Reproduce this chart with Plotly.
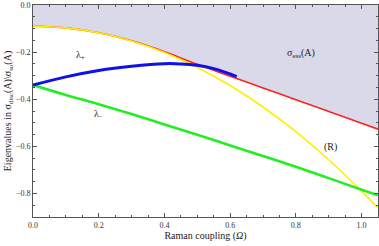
import plotly.graph_objects as go

omega = [0.0, 0.1, 0.2, 0.3, 0.4, 0.5, 0.6, 0.7, 0.8, 0.9, 1.0, 1.05]
ess_edge = [-0.09, -0.097, -0.118, -0.152, -0.198, -0.252, -0.302, -0.352, -0.402, -0.452, -0.502, -0.527]
r_curve = [-0.09, -0.097, -0.118, -0.153, -0.202, -0.265, -0.342, -0.433, -0.538, -0.657, -0.79, -0.862]
lam_minus = [-0.34, -0.382, -0.421, -0.463, -0.507, -0.551, -0.596, -0.641, -0.687, -0.735, -0.784, -0.808]
omega_plus = [0.0, 0.1, 0.2, 0.3, 0.4, 0.45, 0.5, 0.55, 0.6, 0.62]
lam_plus = [-0.34, -0.305, -0.278, -0.26, -0.249, -0.25, -0.256, -0.27, -0.293, -0.304]
top = [0.0] * len(omega)

xticks = [0.0, 0.2, 0.4, 0.6, 0.8, 1.0]
yticks = [0.0, -0.2, -0.4, -0.6, -0.8]

FONT = "Liberation Serif"

fig = go.Figure()
fig.add_trace(go.Scatter(x=omega, y=top, mode="lines", line=dict(width=0), showlegend=False, hoverinfo="skip"))
fig.add_trace(go.Scatter(x=omega, y=ess_edge, mode="lines", line=dict(width=0, shape="spline"),
                         fill="tonexty", fillcolor="#d9d9ea", showlegend=False, hoverinfo="skip"))
fig.add_trace(go.Scatter(x=omega, y=ess_edge, mode="lines", line=dict(color="#ff2020", width=1.6, shape="spline"), showlegend=False))
fig.add_trace(go.Scatter(x=omega, y=r_curve, mode="lines", line=dict(color="#ffee00", width=1.6, shape="spline"), showlegend=False))
fig.add_trace(go.Scatter(x=omega, y=lam_minus, mode="lines", line=dict(color="#22ee22", width=2.6, shape="spline"), showlegend=False))
fig.add_trace(go.Scatter(x=omega_plus, y=lam_plus, mode="lines", line=dict(color="#1010ee", width=3, shape="spline"), showlegend=False))

ann_font = dict(family=FONT, size=10, color="#222")
fig.add_annotation(x=0.145, y=-0.215, text="λ<sub>+</sub>", showarrow=False, font=ann_font)
fig.add_annotation(x=0.2, y=-0.465, text="λ<sub>−</sub>", showarrow=False, font=ann_font)
fig.add_annotation(x=0.815, y=-0.205, text="σ<sub>ess</sub>(A)", showarrow=False, font=ann_font)
fig.add_annotation(x=0.905, y=-0.603, text="(R)", showarrow=False, font=ann_font)

axis_common = dict(
    showgrid=False, zeroline=False, showline=True, linecolor="#555", linewidth=1,
    mirror="ticks", ticks="inside", ticklen=4, tickcolor="#555", tickwidth=0.8,
    tickfont=dict(family=FONT, size=8, color="#333"), automargin=False,
)
fig.update_xaxes(range=[0, 1.05], tickvals=xticks, ticktext=[f"{v:.1f}" for v in xticks],
                 minor=dict(dtick=0.05, ticks="inside", ticklen=2, tickcolor="#555"),
                 title=dict(text="Raman coupling (<i>Ω</i>)", font=dict(family=FONT, size=10, color="#222"), standoff=2),
                 **axis_common)
fig.update_yaxes(range=[-0.9, 0], tickvals=yticks, ticktext=["0.0", "−0.2", "−0.4", "−0.6", "−0.8"],
                 minor=dict(dtick=0.05, ticks="inside", ticklen=2, tickcolor="#555"),
                 title=dict(text="Eigenvalues in σ<sub>disc</sub>(A)\\σ<sub>so</sub>(A)", font=dict(family=FONT, size=10, color="#222"), standoff=2),
                 **axis_common)

fig.update_layout(width=379, height=246, margin=dict(l=33, r=1, t=5, b=29),
                  plot_bgcolor="white", paper_bgcolor="white")
fig.write_html("out.html", config={"displayModeBar": False},
               post_script="document.body.style.margin='0';document.body.style.padding='0';")
